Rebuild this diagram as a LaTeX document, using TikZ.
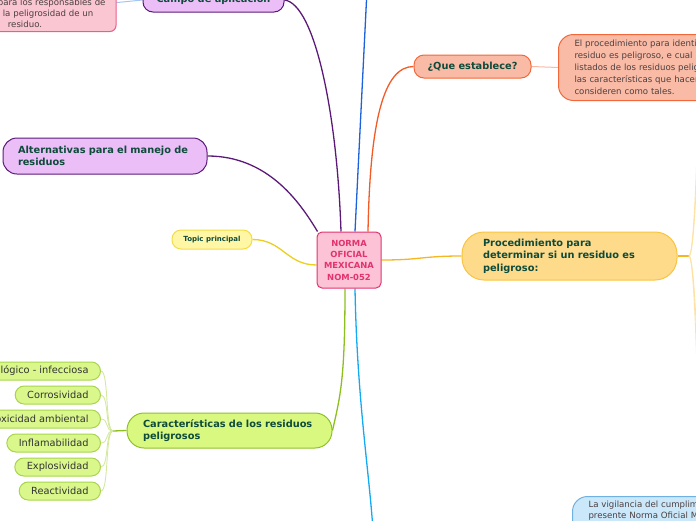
\documentclass[tikz,border=0pt]{standalone}
\usepackage{fontspec}
\setmainfont{DejaVu Sans}
\usetikzlibrary{backgrounds}
\definecolor{headtxt}{HTML}{0E4B3B}
\definecolor{desctxt}{HTML}{4B3F3F}
\definecolor{leaftxt}{HTML}{333333}
\definecolor{purfill}{HTML}{EBBEF8}
\definecolor{purline}{HTML}{5C1A78}
\definecolor{salfill}{HTML}{F9BBA6}
\definecolor{salline}{HTML}{F2683A}
\definecolor{salconn}{HTML}{F25A26}
\definecolor{sallight}{HTML}{F9B9A3}
\definecolor{cenfill}{HTML}{FBC3D5}
\definecolor{cenline}{HTML}{E2336F}
\definecolor{topfill}{HTML}{FFF6A6}
\definecolor{topline}{HTML}{F4DC45}
\definecolor{topconn}{HTML}{EAD01C}
\definecolor{orafill}{HTML}{FEDB8B}
\definecolor{oraline}{HTML}{F9C440}
\definecolor{oraconn}{HTML}{F6B622}
\definecolor{oralight}{HTML}{FDE2A4}
\definecolor{grefill}{HTML}{D9F880}
\definecolor{greline}{HTML}{8FC127}
\definecolor{greconn}{HTML}{8DC01F}
\definecolor{leaffill}{HTML}{D9F78B}
\definecolor{leafline}{HTML}{A9D44F}
\definecolor{leafconn}{HTML}{D5E8A0}
\definecolor{pinkfill}{HTML}{FAC6D2}
\definecolor{pinkline}{HTML}{E8608A}
\definecolor{bluefill}{HTML}{CBE8FB}
\definecolor{blueline}{HTML}{6FB2E2}
\definecolor{bluetop}{HTML}{1C62DC}
\definecolor{bluebot}{HTML}{14AAF2}
\definecolor{linkblue}{HTML}{A4C4F4}
\tikzset{
  head/.style={font=\fontsize{9.8}{12.5}\selectfont\bfseries, text=headtxt, line width=1pt, inner ysep=0pt},
  desc/.style={font=\fontsize{8.6}{12}\selectfont, text=desctxt, line width=1pt},
  leaf/.style={draw=leafline, fill=leaffill, line width=1pt, rounded corners=9pt, minimum height=18pt,
    inner xsep=12pt, inner ysep=0pt, font=\fontsize{9.8}{12}\selectfont, text=leaftxt, anchor=east},
  conn/.style={line width=1.3pt},
}
\begin{document}
\begin{tikzpicture}[x=1pt,y=-1pt]
\useasboundingbox (0,0) rectangle (696,520);
\clip (0,0) rectangle (696,520);

% central
\node[draw=cenline, fill=cenfill, line width=1pt, rounded corners=5pt, minimum width=64pt, minimum height=56pt,
  inner sep=0pt, align=center, text=cenline, font=\fontsize{8.4}{11.3}\selectfont\bfseries] (c) at (349,260)
  {NORMA\\OFICIAL\\MEXICANA\\NOM-052};

% main topics
\node[head, draw=purline, fill=purfill, rounded corners=10pt, minimum width=141pt, minimum height=24pt] (campo) at (213.5,0) {Campo de aplicación};
\node[head, draw=salline, fill=salfill, rounded corners=10pt, minimum width=117pt, minimum height=23pt] (que) at (472.5,66.5) {¿Que establece?};
\node[head, draw=purline, fill=purfill, rounded corners=14pt, text width=174pt, inner xsep=15pt, minimum height=36pt, align=left] (alt) at (105,156) {Alternativas para el manejo de\\residuos};
\node[draw=topline, fill=topfill, line width=1pt, rounded corners=9pt, minimum width=80pt, minimum height=19pt, inner sep=0pt,
  text=headtxt, font=\fontsize{7}{8}\selectfont\bfseries] (topic) at (212,239.5) {Topic principal};
\node[head, draw=oraline, fill=orafill, rounded corners=22pt, text width=173pt, inner xsep=21pt, minimum height=48pt, align=left] (proc) at (569.5,256) {Procedimiento para\\determinar si un residuo es\\peligroso:};
\node[head, draw=greline, fill=grefill, rounded corners=17pt, text width=173pt, inner xsep=16pt, minimum height=35pt, align=left] (car) at (229.5,430.5) {Características de los residuos\\peligrosos};

% description nodes
\node[desc, draw=salline, fill=salfill, rounded corners=15pt, anchor=north west, text width=180pt, inner xsep=16pt, minimum height=66pt, align=left] (big) at (558,34)
  {El procedimiento para identificar si un\\residuo es peligroso, e cual incluye los\\listados de los residuos peligrosos y\\las características que hacen que se\\consideren como tales.};
\node[desc, font=\fontsize{8.6}{10.8}\selectfont, draw=pinkline, fill=pinkfill, rounded corners=6pt, anchor=south, text width=170pt, inner xsep=6pt, inner ysep=4pt, align=center] (pink) at (25,32)
  {Esta Norma Oficial Mexicana es de\\observancia obligatoria en lo\\conducente para los responsables de\\identificar la peligrosidad de un\\residuo.};
\node[desc, font=\fontsize{8.6}{11}\selectfont, draw=blueline, fill=bluefill, rounded corners=15pt, anchor=north west, text width=200pt, inner xsep=16pt, inner ysep=4pt, align=left] (vig) at (572,496)
  {La vigilancia del cumplimiento de la\\presente Norma Oficial Mexicana\\corresponde a la Secretaría de Medio};

% leaves
\node[leaf] (l1) at (101,371) {Biológico - infecciosa};
\node[leaf] (l2) at (101,395) {Corrosividad};
\node[leaf] (l3) at (101,419) {Toxicidad ambiental};
\node[leaf] (l4) at (101,443) {Inflamabilidad};
\node[leaf] (l5) at (101,467) {Explosividad};
\node[leaf] (l6) at (101,491) {Reactividad};

\coordinate (cbr) at (113,431);
\coordinate (pbr) at (689,256);
\coordinate (uptop) at (367,-10);
\coordinate (downbot) at (373,530);
\coordinate (pu1) at (697,150);
\coordinate (pu2) at (697,168);
\coordinate (pd1) at (697,345);
\coordinate (pd2) at (697,372);

\begin{pgfonlayer}{background}
\draw[conn, purline] (campo.east) .. controls +(30,4) and +(-4,-120) .. ([xshift=-8pt]c.north);
\draw[conn, purline] (alt.east) .. controls +(60,0) and +(-18,-30) .. ([xshift=1pt]c.north west);
\draw[conn, salconn] ([xshift=19pt]c.north) .. controls +(2,-110) and +(-30,0) .. (que.west);
\draw[conn, bluetop] ([xshift=6pt]c.north) -- (uptop);
\draw[conn, topconn] (topic.east) .. controls +(30,0) and +(-30,0) .. ([yshift=-5pt]c.west);
\draw[conn, oraconn] (c.east) .. controls +(40,0) and +(-40,0) .. (proc.west);
\draw[conn, greconn] ([xshift=-4pt]c.south) .. controls +(0,90) and +(8,-35) .. (car.east);
\draw[conn, bluebot] ([xshift=6pt]c.south) .. controls +(2,110) and +(-4,-60) .. (downbot);
\draw[line width=1pt, sallight] (que.east) -- (big.west);
\draw[line width=1pt, linkblue] (pink.east) -- (campo.west);
\draw[conn, greconn] (car.west) -- (cbr);
\foreach \l in {l1,l2,l3,l4,l5,l6}
  \draw[line width=0.9pt, leafconn] (cbr) .. controls +(-8,0) and +(8,0) .. (\l.east);
\draw[conn, oraconn] (proc.east) -- (pbr);
\foreach \p in {pu1,pu2,pd1,pd2}
  \draw[line width=0.9pt, oralight] (pbr) .. controls +(5,0) and +(0,0) .. (\p);
\end{pgfonlayer}
\end{tikzpicture}
\end{document}
